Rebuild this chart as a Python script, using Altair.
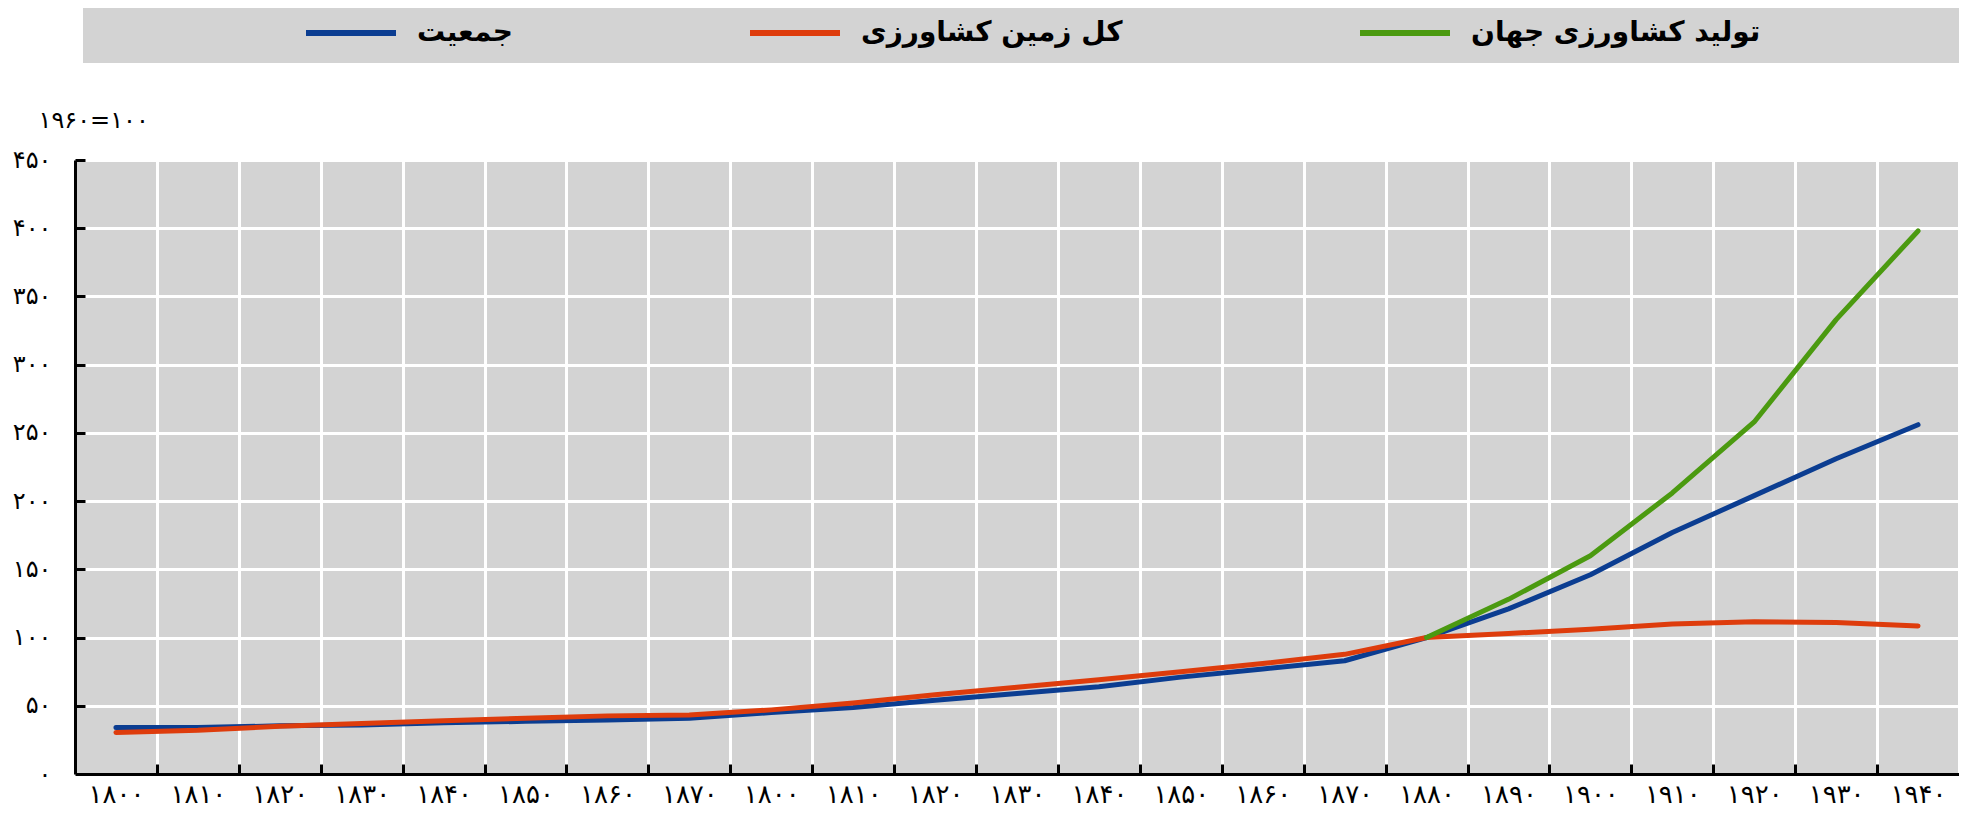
import json
import altair as alt
import pandas as pd

# ---- data ----
x_labels = ["۱۸۰۰", "۱۸۱۰", "۱۸۲۰", "۱۸۳۰", "۱۸۴۰", "۱۸۵۰", "۱۸۶۰", "۱۸۷۰",
            "۱۸۰۰", "۱۸۱۰", "۱۸۲۰", "۱۸۳۰", "۱۸۴۰", "۱۸۵۰", "۱۸۶۰", "۱۸۷۰",
            "۱۸۸۰", "۱۸۹۰", "۱۹۰۰", "۱۹۱۰", "۱۹۲۰", "۱۹۳۰", "۱۹۴۰"]
y_tick_values = [0, 50, 100, 150, 200, 250, 300, 350, 400, 450]
y_tick_labels = ["۰", "۵۰", "۱۰۰", "۱۵۰", "۲۰۰", "۲۵۰", "۳۰۰", "۳۵۰", "۴۰۰", "۴۵۰"]

population = [34, 34, 35.3, 36, 37.5, 38.6, 39.6, 40.8, 45, 48.7, 54, 59, 64, 71, 77, 83,
              100, 121, 146, 177, 204, 231, 256]
land = [30.5, 32, 35, 37, 39, 40.8, 42.6, 43.3, 47, 52, 58, 63.5, 69, 75, 81, 87.7,
        100, 103, 106, 110, 111.5, 111, 108.5]
production = [None] * 16 + [100, 128, 160, 206, 258, 333, 398]

s_pop = "جمعیت"
s_land = "کل زمین کشاورزی"
s_prod = "تولید کشاورزی جهان"
series_names = [s_pop, s_land, s_prod]
series_colors = ["#0b3d91", "#de3c0c", "#4b9a10"]

rows = []
for name, vals in zip(series_names, [population, land, production]):
    for i, v in enumerate(vals):
        if v is not None:
            rows.append({"idx": i, "value": v, "series": name})
df = pd.DataFrame(rows)

W, H = 1884, 614
TOP = 152
band = W / len(x_labels)
FONT = "DejaVu Sans"

xscale = alt.Scale(domain=[-0.5, len(x_labels) - 0.5], nice=False, zero=False)
yscale = alt.Scale(domain=[0, 450], nice=False)

x_main_axis = alt.Axis(
    orient="bottom",
    values=[k + 0.5 for k in range(len(x_labels))],
    labelExpr=f"{json.dumps(x_labels, ensure_ascii=False)}[round(datum.value - 0.5)]",
    labelOffset=-band / 2, labelAngle=0, labelFlush=False, labelOverlap=False,
    labelFont=FONT, labelFontSize=26, labelColor="black", labelPadding=7,
    ticks=False, grid=True, gridColor="white", gridWidth=3, gridOpacity=1,
    domainColor="black", domainWidth=3, title=None)
y_main_axis = alt.Axis(
    orient="left",
    values=y_tick_values,
    labelExpr=f"{json.dumps(y_tick_labels, ensure_ascii=False)}[round(datum.value / 50)]",
    labelFlush=False, labelOverlap=False,
    labelFont=FONT, labelFontSize=24, labelColor="black", labelPadding=24,
    ticks=False, grid=True, gridColor="white", gridWidth=3, gridOpacity=1,
    domainColor="black", domainWidth=3,
    title="۱۹۶۰=۱۰۰", titleAngle=0, titleX=-37, titleY=-40, titleAlign="left",
    titleBaseline="middle", titleFont=FONT, titleFontSize=24, titleFontWeight="normal",
    titleColor="black")

x_tick_axis = alt.Axis(orient="bottom", values=[k + 0.5 for k in range(len(x_labels) - 1)],
                       offset=-10, tickSize=10, tickWidth=3, tickColor="black",
                       domain=False, labels=False, grid=False, title=None)
y_tick_axis = alt.Axis(orient="left", values=y_tick_values[1:],
                       offset=-10, tickSize=10, tickWidth=3, tickColor="black",
                       domain=False, labels=False, grid=False, title=None)

color_scale = alt.Scale(domain=series_names, range=series_colors)
legend = alt.Legend(orient="none", legendX=228, legendY=30 - 8 - TOP - 45,
                    direction="horizontal",
                    title=None, symbolType="stroke", symbolSize=8100, symbolStrokeWidth=6,
                    labelFont=FONT, labelFontSize=28, labelFontWeight="bold",
                    labelColor="black", labelOffset=18, columnPadding=225, padding=0,
                    labelLimit=600)

base = alt.Chart(df)

legend_bg = alt.Chart(pd.DataFrame({"a": [0]})).mark_rect(color="#d3d3d3").encode(
    x=alt.value(8), x2=alt.value(W), y=alt.value(-TOP), y2=alt.value(-TOP + 55))


def line_layer(name, axes=False):
    enc_x = alt.X("idx:Q", scale=xscale, axis=x_main_axis if axes else None)
    enc_y = alt.Y("value:Q", scale=yscale, axis=y_main_axis if axes else None)
    return base.transform_filter(alt.datum.series == name).mark_line(
        strokeWidth=5, strokeCap="round", strokeJoin="round").encode(
        x=enc_x, y=enc_y,
        color=alt.Color("series:N", scale=color_scale, legend=legend))


tick_layer = base.mark_point(opacity=0).encode(
    x=alt.X("idx:Q", scale=xscale, axis=x_tick_axis),
    y=alt.Y("value:Q", scale=yscale, axis=y_tick_axis))

chart = alt.layer(
    legend_bg,
    line_layer(s_pop, axes=True),
    tick_layer,
    line_layer(s_land),
    line_layer(s_prod),
).resolve_axis(x="independent", y="independent").properties(
    width=W, height=H, autosize="none",
    padding={"left": 67, "top": TOP, "right": 0, "bottom": 804 - TOP - H},
    background="white",
).configure_view(fill="#d3d3d3", strokeWidth=0)

chart.save("out.html", embed_options={"renderer": "svg", "actions": False})
